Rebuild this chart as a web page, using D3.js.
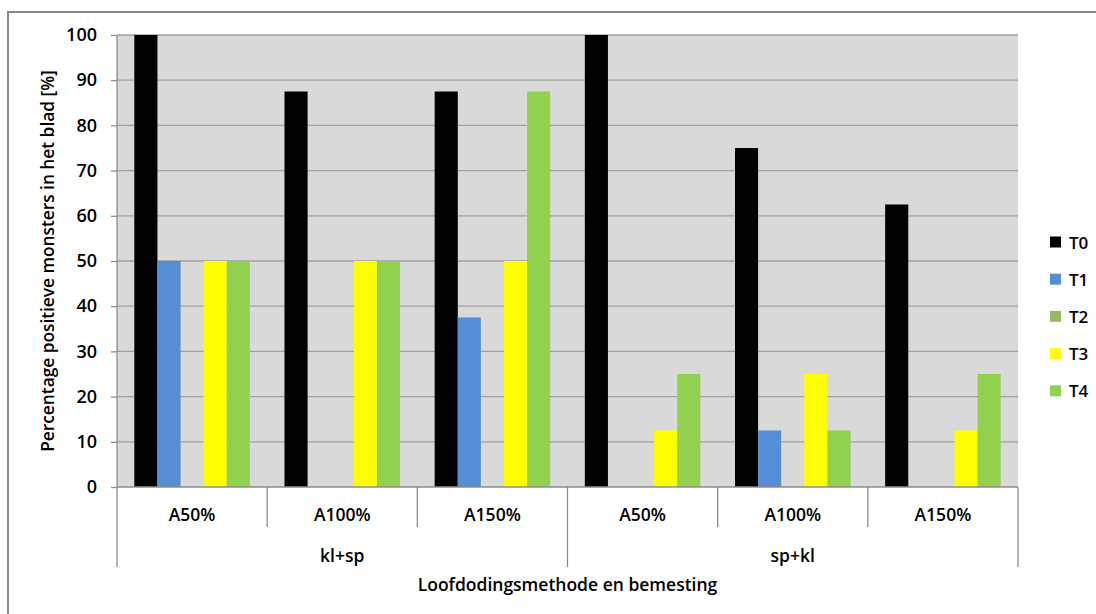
<!DOCTYPE html>
<html>
<head>
<meta charset="utf-8">
<script src="https://cdn.jsdelivr.net/npm/d3@7"></script>
<style>
  html, body { margin: 0; padding: 0; background: #fff; }
  svg { display: block; }
  text { font-family: "Open Sans", "Noto Sans", sans-serif; fill: #000; }
</style>
</head>
<body>
<svg id="chart" width="1096" height="614"></svg>
<script>
// Percentage of positive leaf samples per treatment and sampling moment
const methods = ["kl+sp", "sp+kl"];
const doses = ["A50%", "A100%", "A150%"];
const series = ["T0", "T1", "T2", "T3", "T4"];
const colors = ["#000000", "#558ED5", "#9BBB59", "#FFFF00", "#92D050"];

const T0 = [100, 87.5, 87.5, 100, 75, 62.5];
const T1 = [50, 0, 37.5, 0, 12.5, 0];
const T2 = [0, 0, 0, 0, 0, 0];
const T3 = [50, 50, 50, 12.5, 25, 12.5];
const T4 = [50, 50, 87.5, 25, 12.5, 25];
const seriesValues = [T0, T1, T2, T3, T4];

const yTicks = [0, 10, 20, 30, 40, 50, 60, 70, 80, 90, 100];

const svg = d3.select("#chart");
const plot = { left: 117, top: 35, right: 1018, bottom: 487 };

// outer frame (left and top edges)
svg.append("path")
  .attr("d", "M8,614 L8,12 L1096,12")
  .attr("fill", "none").attr("stroke", "#888").attr("stroke-width", 2);

// categories: method x dose
const cats = [];
methods.forEach(m => doses.forEach(d => cats.push(m + "|" + d)));

const x0 = d3.scaleBand().domain(cats).range([plot.left, plot.right]).paddingInner(0).paddingOuter(0);
const bw = x0.bandwidth();
// gap width 150%: bar = bw / 6.5, outer gap = 0.75 bar each side
const x1 = d3.scaleBand().domain(series)
  .range([bw * 0.75 / 6.5, bw - bw * 0.75 / 6.5]).padding(0);

const y = d3.scaleLinear().domain([0, 100]).range([plot.bottom, plot.top]);

// plot background
svg.append("rect")
  .attr("x", plot.left).attr("y", plot.top)
  .attr("width", plot.right - plot.left).attr("height", plot.bottom - plot.top)
  .attr("fill", "#D9D9D9");

// gridlines
svg.append("g")
  .selectAll("line").data(yTicks.filter(t => t > 0)).join("line")
  .attr("x1", plot.left).attr("x2", plot.right)
  .attr("y1", d => y(d)).attr("y2", d => y(d))
  .attr("stroke", "#A0A0A0").attr("stroke-width", 1.3);

// bars
const groups = svg.append("g").selectAll("g").data(cats).join("g")
  .attr("transform", d => `translate(${x0(d)},0)`);
groups.selectAll("rect")
  .data((d, i) => series.map((s, k) => ({ s, k, v: seriesValues[k][i] })))
  .join("rect")
  .attr("x", d => x1(d.s))
  .attr("width", x1.bandwidth())
  .attr("y", d => y(d.v))
  .attr("height", d => y(0) - y(d.v))
  .attr("fill", d => colors[d.k]);

// y axis
const yAxis = d3.axisLeft(y).tickValues(yTicks).tickSize(6).tickPadding(14).tickFormat(d3.format("d"));
const ya = svg.append("g").attr("transform", `translate(${plot.left},0)`).call(yAxis);
ya.select(".domain").attr("stroke", "#8C8C8C").attr("stroke-width", 1.3).attr("d", `M0,${plot.top}V${plot.bottom}`);
ya.selectAll(".tick line").attr("stroke", "#8C8C8C").attr("stroke-width", 1.3);
ya.selectAll(".tick text")
  .attr("font-family", "'Open Sans', sans-serif")
  .attr("font-size", 18).attr("font-weight", 600).attr("fill", "#000");

// x axis baseline
svg.append("line")
  .attr("x1", plot.left).attr("x2", plot.right)
  .attr("y1", plot.bottom).attr("y2", plot.bottom)
  .attr("stroke", "#8C8C8C").attr("stroke-width", 1.3);

// category separators
const innerLevelBottom = 527;
const outerLevelBottom = 567;
const sepG = svg.append("g").attr("stroke", "#8C8C8C").attr("stroke-width", 1.3);
cats.forEach((c, i) => {
  const xv = x0(c);
  const isOuter = i % doses.length === 0;
  sepG.append("line").attr("x1", xv).attr("x2", xv)
    .attr("y1", plot.bottom).attr("y2", isOuter ? outerLevelBottom : innerLevelBottom);
});
sepG.append("line").attr("x1", plot.right).attr("x2", plot.right)
  .attr("y1", plot.bottom).attr("y2", outerLevelBottom);

const labelSize = 17.5;

// dose labels
svg.append("g").selectAll("text").data(cats).join("text")
  .attr("x", d => x0(d) + bw / 2).attr("y", 514)
  .attr("text-anchor", "middle").attr("dominant-baseline", "central")
  .attr("font-size", labelSize).attr("font-weight", 600)
  .text(d => d.split("|")[1]);

// method labels
svg.append("g").selectAll("text").data(methods).join("text")
  .attr("x", d => x0(d + "|" + doses[0]) + bw * doses.length / 2)
  .attr("y", 555)
  .attr("text-anchor", "middle").attr("dominant-baseline", "central")
  .attr("font-size", labelSize).attr("font-weight", 600)
  .text(d => d);

// axis titles
svg.append("text")
  .attr("x", (plot.left + plot.right) / 2).attr("y", 584)
  .attr("text-anchor", "middle").attr("dominant-baseline", "central")
  .attr("font-size", labelSize).attr("font-weight", 600)
  .text("Loofdodingsmethode en bemesting");

svg.append("text")
  .attr("transform", `translate(47,${(plot.top + plot.bottom) / 2}) rotate(-90)`)
  .attr("text-anchor", "middle").attr("dominant-baseline", "central")
  .attr("font-size", 17.3).attr("font-weight", 600)
  .text("Percentage positieve monsters in het blad [%]");

// legend
const lg = svg.append("g").selectAll("g").data(series).join("g")
  .attr("transform", (d, i) => `translate(1050,${242 + i * 37.2})`);
lg.append("rect").attr("x", 0).attr("y", -5.5).attr("width", 11).attr("height", 11)
  .attr("fill", (d, i) => colors[i]);
lg.append("text").attr("x", 19).attr("y", 0)
  .attr("dominant-baseline", "central")
  .attr("font-size", 17).attr("font-weight", 600)
  .text(d => d);
</script>
</body>
</html>
